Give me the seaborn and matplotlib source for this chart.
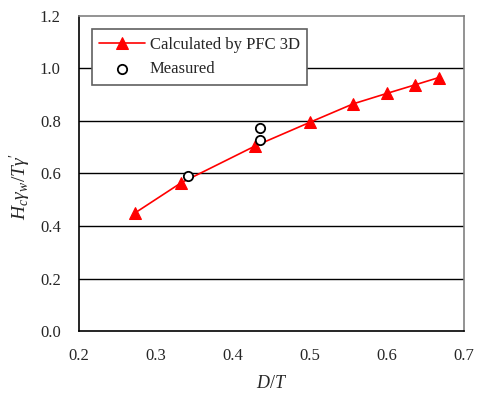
import matplotlib
matplotlib.use('Agg')
import matplotlib.pyplot as plt
import seaborn as sns
import pandas as pd

# PFC 3D calculation
dt_calc = [0.273, 0.333, 0.429, 0.500, 0.556, 0.600, 0.636, 0.667]
h_calc = [0.45, 0.565, 0.705, 0.795, 0.865, 0.905, 0.937, 0.965]

# measurements
dt_meas = [0.342, 0.435, 0.435]
h_meas = [0.590, 0.728, 0.772]

x_ticks = [0.2, 0.3, 0.4, 0.5, 0.6, 0.7]
y_ticks = [0.0, 0.2, 0.4, 0.6, 0.8, 1.0, 1.2]

sns.set_style('white')
plt.rcParams['font.family'] = ['Liberation Serif', 'DejaVu Serif']
plt.rcParams['mathtext.fontset'] = 'custom'
plt.rcParams['mathtext.it'] = 'Liberation Serif:italic'
plt.rcParams['mathtext.rm'] = 'Liberation Serif'

calc = pd.DataFrame({'dt': dt_calc, 'h': h_calc})
meas = pd.DataFrame({'dt': dt_meas, 'h': h_meas})

fig = plt.figure(figsize=(4.84, 3.96), dpi=100)
ax = fig.add_axes([0.163, 0.164, 0.796, 0.796])

for yv in y_ticks[1:-1]:
    ax.axhline(yv, color='black', lw=1.0, zorder=0)

sns.lineplot(data=calc, x='dt', y='h', ax=ax, color='red', lw=1.2,
             marker='^', markersize=8, markeredgecolor='red',
             label='Calculated by PFC 3D')
sns.scatterplot(data=meas, x='dt', y='h', ax=ax, marker='o', s=45,
                facecolor='white', edgecolor='black', linewidth=1.3,
                label='Measured', zorder=5)

ax.set_xlim(0.2, 0.7)
ax.set_ylim(0.0, 1.2)
ax.set_xticks(x_ticks)
ax.set_yticks(y_ticks)
ax.set_xticklabels([f'{v:.1f}' for v in x_ticks], fontsize=12)
ax.set_yticklabels([f'{v:.1f}' for v in y_ticks], fontsize=12)
ax.tick_params(axis='x', direction='in', length=5, width=1, color='black', pad=12)
ax.tick_params(axis='y', direction='in', length=5, width=1, color='black', pad=13)

ax.set_xlabel('$D/T$', fontsize=13)
ax.set_ylabel(r"$H_c\gamma_w/T\gamma'$", fontsize=14)
ax.xaxis.set_label_coords(0.5, -0.14)
ax.yaxis.set_label_coords(-0.12, 0.46)

for side in ['left', 'bottom']:
    ax.spines[side].set_color('black')
    ax.spines[side].set_linewidth(1.2)
for side in ['top', 'right']:
    ax.spines[side].set_color('#808080')
    ax.spines[side].set_linewidth(1.2)

leg = ax.legend(loc='upper left', bbox_to_anchor=(0.033, 0.957), fontsize=12,
                frameon=True, fancybox=False, borderpad=0.45, borderaxespad=0,
                handlelength=2.75, handletextpad=0.3, labelspacing=0.5)
leg.get_frame().set_edgecolor('#606060')
leg.get_frame().set_linewidth(1.2)
leg.get_frame().set_alpha(1)

fig.savefig('out.png', dpi=100)
